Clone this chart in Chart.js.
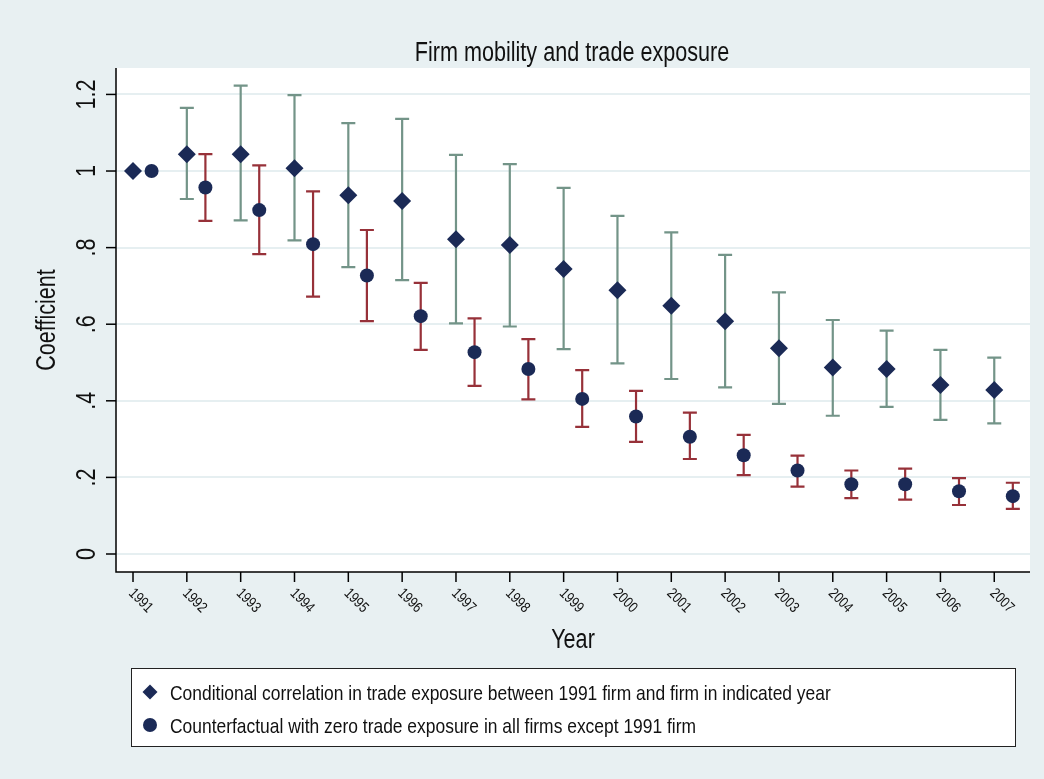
<!DOCTYPE html>
<html>
<head>
<meta charset="utf-8">
<title>Firm mobility and trade exposure</title>
<script src="https://cdn.jsdelivr.net/npm/chart.js@4.4.1/dist/chart.umd.min.js"></script>
<style>
  html, body { margin: 0; padding: 0; background: #E8F0F2; }
  #wrap { position: relative; width: 1044px; height: 779px; }
</style>
</head>
<body>
<div id="wrap"><canvas id="chart" width="1044" height="779"></canvas></div>
<script>
// --- Data ---
const years = [1991, 1992, 1993, 1994, 1995, 1996, 1997, 1998, 1999, 2000, 2001, 2002, 2003, 2004, 2005, 2006, 2007];

// Conditional correlation (diamonds) with 95% CI
const corrCoef = [1.000, 1.044, 1.044, 1.007, 0.937, 0.922, 0.822, 0.807, 0.744, 0.689, 0.648, 0.608, 0.537, 0.487, 0.483, 0.441, 0.428];
const corrLo   = [null,  0.927, 0.871, 0.819, 0.749, 0.715, 0.602, 0.594, 0.535, 0.498, 0.457, 0.435, 0.392, 0.361, 0.384, 0.350, 0.341];
const corrHi   = [null,  1.165, 1.223, 1.198, 1.125, 1.136, 1.042, 1.018, 0.956, 0.883, 0.840, 0.781, 0.683, 0.611, 0.583, 0.533, 0.513];

// Counterfactual (circles) with 95% CI
const cfCoef = [1.000, 0.957, 0.898, 0.809, 0.727, 0.621, 0.527, 0.483, 0.405, 0.359, 0.306, 0.258, 0.218, 0.182, 0.182, 0.164, 0.151];
const cfLo   = [null,  0.870, 0.783, 0.672, 0.608, 0.533, 0.439, 0.404, 0.332, 0.293, 0.248, 0.206, 0.176, 0.146, 0.142, 0.128, 0.118];
const cfHi   = [null,  1.044, 1.015, 0.947, 0.846, 0.708, 0.615, 0.561, 0.480, 0.426, 0.369, 0.311, 0.257, 0.218, 0.223, 0.198, 0.186];

const yTicks = [0, 0.2, 0.4, 0.6, 0.8, 1, 1.2];
const yTickLabels = ['0', '.2', '.4', '.6', '.8', '1', '1.2'];

const seriesLabels = [
  'Conditional correlation in trade exposure between 1991 firm and firm in indicated year',
  'Counterfactual with zero trade exposure in all firms except 1991 firm'
];

// --- Style ---
const BG = '#E8F0F2';
const NAVY = '#1B2A56';
const GREEN = '#739488';
const RED = '#973139';
const GRID = '#E6EFF1';
const FONT = '"Liberation Sans", Arial, sans-serif';
const CF_SHIFT = 0.345; // horizontal dodge of the counterfactual series

// draw condensed text (Stata style)
function drawText(ctx, str, x, y, size, opts = {}) {
  ctx.save();
  ctx.translate(x, y);
  if (opts.rot) ctx.rotate(opts.rot);
  ctx.scale(opts.sx || 0.8, 1);
  ctx.font = size + 'px ' + FONT;
  ctx.fillStyle = opts.color || '#111';
  ctx.textAlign = opts.align || 'left';
  ctx.textBaseline = opts.baseline || 'alphabetic';
  ctx.fillText(str, 0, 0);
  ctx.restore();
}

function diamond(ctx, x, y, r) {
  ctx.beginPath();
  ctx.moveTo(x, y - r);
  ctx.lineTo(x + r, y);
  ctx.lineTo(x, y + r);
  ctx.lineTo(x - r, y);
  ctx.closePath();
  ctx.fill();
}

// --- Plugins ---
const errorBars = {
  id: 'errorBars',
  beforeDatasetsDraw(chart) {
    const { ctx, scales: { x, y } } = chart;
    chart.data.datasets.forEach(ds => {
      ctx.save();
      ctx.strokeStyle = ds.barColor;
      ctx.lineWidth = 2.2;
      ds.data.forEach((p, i) => {
        if (ds.lo[i] == null) return;
        const px = x.getPixelForValue(p.x);
        const pl = y.getPixelForValue(ds.lo[i]);
        const ph = y.getPixelForValue(ds.hi[i]);
        ctx.beginPath();
        ctx.moveTo(px, pl); ctx.lineTo(px, ph);
        ctx.moveTo(px - 7, pl); ctx.lineTo(px + 7, pl);
        ctx.moveTo(px - 7, ph); ctx.lineTo(px + 7, ph);
        ctx.stroke();
      });
      ctx.restore();
    });
  }
};

const frame = {
  id: 'frame',
  beforeDraw(chart) {
    const { ctx, chartArea: a } = chart;
    ctx.save();
    ctx.fillStyle = BG;
    ctx.fillRect(0, 0, chart.width, chart.height);
    ctx.fillStyle = '#fff';
    ctx.fillRect(a.left, a.top, a.right - a.left, a.bottom - a.top);
    ctx.restore();
  },
  afterDraw(chart) {
    const { ctx, chartArea: a, scales: { x, y } } = chart;
    ctx.save();
    // axes
    ctx.strokeStyle = '#000';
    ctx.lineWidth = 1.5;
    ctx.beginPath();
    ctx.moveTo(a.left, a.top); ctx.lineTo(a.left, a.bottom); ctx.lineTo(a.right, a.bottom);
    ctx.stroke();

    // y ticks + labels
    yTicks.forEach((v, i) => {
      const py = y.getPixelForValue(v);
      ctx.beginPath(); ctx.moveTo(a.left - 10, py); ctx.lineTo(a.left, py); ctx.stroke();
      drawText(ctx, yTickLabels[i], 95, py, 27, { rot: -Math.PI / 2, align: 'center' });
    });

    // x ticks + slanted labels
    years.forEach(yr => {
      const px = x.getPixelForValue(yr);
      ctx.beginPath(); ctx.moveTo(px, a.bottom); ctx.lineTo(px, a.bottom + 10); ctx.stroke();
      drawText(ctx, String(yr), px - 2, a.bottom + 19, 15, { rot: Math.PI / 4, baseline: 'middle', sx: 0.82 });
    });

    // titles
    drawText(ctx, 'Firm mobility and trade exposure', 572, 61, 27, { align: 'center' });
    drawText(ctx, 'Year', 573, 648, 27, { align: 'center' });
    drawText(ctx, 'Coefficient', 55, 320, 27, { rot: -Math.PI / 2, align: 'center' });

    // legend box
    ctx.fillStyle = '#fff';
    ctx.fillRect(131, 668, 884, 78);
    ctx.strokeStyle = '#222';
    ctx.lineWidth = 1;
    ctx.strokeRect(131.5, 668.5, 884, 78);
    ctx.fillStyle = NAVY;
    diamond(ctx, 150, 692, 7.5);
    ctx.beginPath(); ctx.arc(150, 725, 7, 0, Math.PI * 2); ctx.fill();
    drawText(ctx, seriesLabels[0], 170, 700, 21, { sx: 0.83 });
    drawText(ctx, seriesLabels[1], 170, 733, 21, { sx: 0.83 });
    ctx.restore();
  }
};

// --- Chart ---
const ctx = document.getElementById('chart').getContext('2d');
new Chart(ctx, {
  type: 'scatter',
  data: {
    datasets: [
      {
        label: seriesLabels[0],
        data: years.map((yr, i) => ({ x: yr, y: corrCoef[i] })),
        lo: corrLo, hi: corrHi, barColor: GREEN,
        pointStyle: 'rectRot',
        pointRadius: 9,
        backgroundColor: NAVY,
        borderColor: NAVY,
        borderWidth: 0
      },
      {
        label: seriesLabels[1],
        data: years.map((yr, i) => ({ x: yr + CF_SHIFT, y: cfCoef[i] })),
        lo: cfLo, hi: cfHi, barColor: RED,
        pointStyle: 'circle',
        pointRadius: 7,
        backgroundColor: NAVY,
        borderColor: NAVY,
        borderWidth: 0
      }
    ]
  },
  options: {
    responsive: false,
    animation: false,
    layout: { padding: { top: 68, right: 14, left: 0, bottom: 0 } },
    plugins: {
      legend: { display: false },
      title: { display: false },
      tooltip: { enabled: false }
    },
    scales: {
      x: {
        type: 'linear',
        min: 1990.684,
        max: 2007.664,
        grid: { display: false },
        border: { display: false },
        ticks: { display: false },
        afterFit: s => { s.height = 207; }
      },
      y: {
        min: -0.047,
        max: 1.269,
        afterBuildTicks: s => { s.ticks = yTicks.map(v => ({ value: v })); },
        grid: { color: GRID, lineWidth: 2, drawTicks: false },
        border: { display: false },
        ticks: { display: false },
        afterFit: s => { s.width = 116; }
      }
    }
  },
  plugins: [errorBars, frame]
});
</script>
</body>
</html>
